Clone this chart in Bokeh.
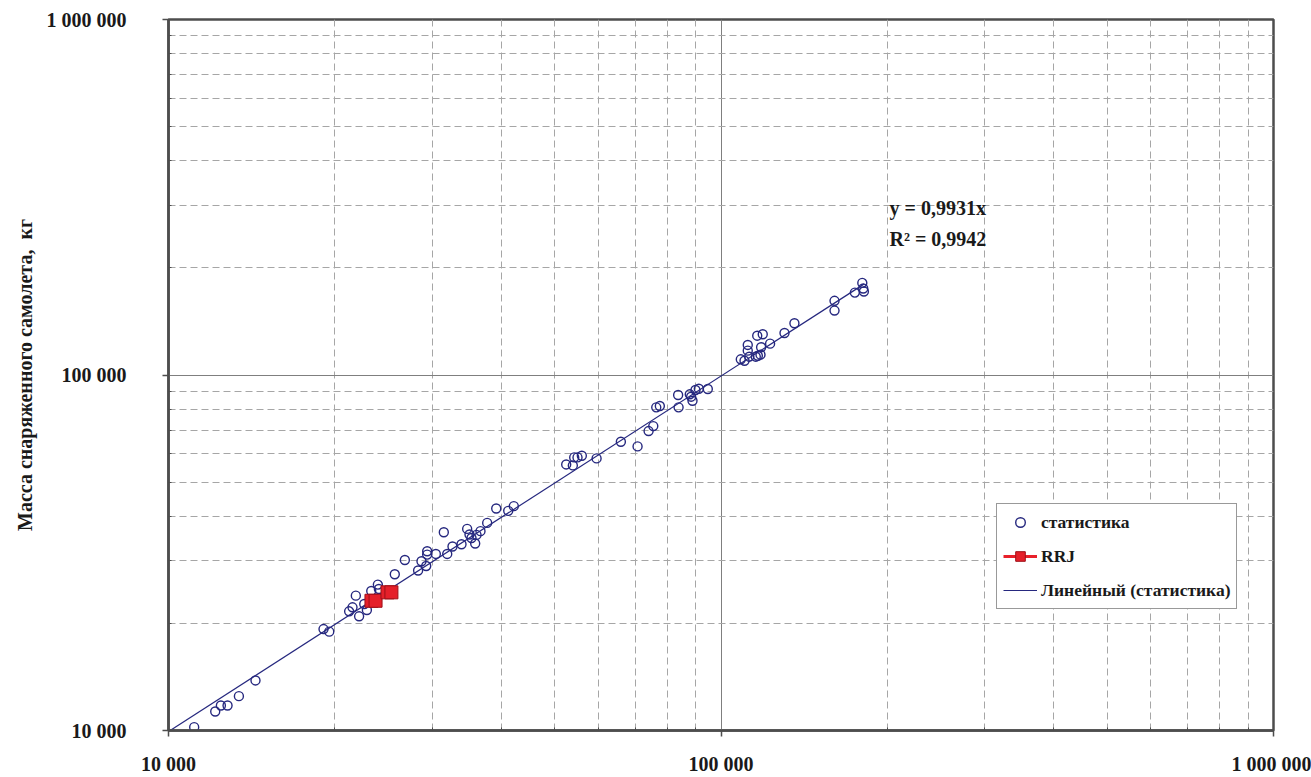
from bokeh.plotting import figure
from bokeh.models import (Range1d, FixedTicker, Label, Legend, LegendItem)
from bokeh.embed import file_html
from bokeh.resources import INLINE

# Statistics: take-off mass vs. equipped aircraft mass, kg
stat_x = [11130, 12150, 12440, 12790, 13410, 14370, 19080, 19540, 21230, 21530,
          21830, 22130, 22610, 22860, 23280, 23930, 24030, 25680, 26780, 28300,
          28700, 29270, 29390, 29390, 30470, 31500, 31950, 32660, 33910, 34720,
          35060, 35350, 35900, 36100, 36700, 37740, 39190, 41200, 42170, 52460,
          53930, 54240, 54990, 55990, 59540, 65880, 70630, 73950, 75410, 76350,
          77500, 83800, 88800, 83640, 87800, 88300, 89910, 91170, 94650, 108600,
          110300, 111800, 111800, 112500, 115600, 116300, 116600, 117900, 118200, 119000,
          122700, 130300, 135800, 160500, 160500, 174700, 180200, 180900, 181400]
stat_y = [10220, 11310, 11760, 11760, 12490, 13830, 19290, 18970, 21640, 22210,
          23950, 20950, 22690, 21830, 24680, 25730, 25000, 27510, 30180, 28180,
          29920, 29030, 31250, 31930, 31380, 36120, 31380, 32920, 33420, 36900,
          35580, 34800, 33570, 35500, 36370, 38370, 42120, 41480, 42760, 56030,
          55670, 58650, 58650, 59260, 58270, 64880, 62980, 69550, 71830, 81100,
          81800, 81100, 84640, 87860, 88240, 86890, 90730, 91500, 91330, 110700,
          109700, 121500, 117100, 112600, 112600, 129000, 113300, 114100, 119700, 130200,
          122500, 131300, 139800, 161700, 151800, 170500, 181600, 175100, 171700]

# RRJ variants
rrj_x = [23300, 23700, 24910, 25320]
rrj_y = [23170, 23170, 24470, 24470]

# Linear trend through the origin
trend_slope = 0.9931
trend_r2 = 0.9942
trend_x = [10000, max(stat_x)]
trend_y = [trend_slope * v for v in trend_x]

major_ticks = [10000, 100000, 1000000]
tick_labels = {10000: "10 000", 100000: "100 000", 1000000: "1 000 000"}
minor_ticks = [m * 10 ** k for k in (4, 5) for m in range(2, 10)]

FONT = "Liberation Serif"
NAVY = "#26287F"
BORDER = "#4D4D4D"
TEXT = "#1A1A1A"

p = figure(width=1311, height=777, x_axis_type="log", y_axis_type="log",
           x_range=Range1d(10000, 1000000), y_range=Range1d(10000, 1000000),
           output_backend="svg", toolbar_location=None,
           min_border_left=168, min_border_right=38,
           min_border_top=19, min_border_bottom=47)
p.background_fill_color = "white"
p.border_fill_color = "white"
p.outline_line_color = BORDER
p.outline_line_width = 2.5

for ax in (p.xaxis[0], p.yaxis[0]):
    ax.ticker = FixedTicker(ticks=major_ticks, minor_ticks=minor_ticks)
    ax.major_label_overrides = tick_labels
    ax.major_label_text_font = FONT
    ax.major_label_text_font_style = "bold"
    ax.major_label_text_font_size = "20px"
    ax.major_label_text_color = TEXT
    ax.axis_line_color = BORDER
    ax.axis_line_width = 2.5
    ax.major_tick_line_color = BORDER
    ax.major_tick_line_width = 1.5
    ax.major_tick_out = 6
    ax.major_tick_in = 0
    ax.minor_tick_line_color = BORDER
    ax.minor_tick_in = 3
    ax.minor_tick_out = 0

p.xaxis.major_label_standoff = 16
p.yaxis.major_label_standoff = 36
p.yaxis.major_label_orientation = "horizontal"

p.yaxis.axis_label = "Масса снаряженного самолета,\u00a0\u00a0кг"
p.yaxis.axis_label_text_font = FONT
p.yaxis.axis_label_text_font_style = "bold"
p.yaxis.axis_label_text_font_size = "20px"
p.yaxis.axis_label_text_color = TEXT
p.yaxis.axis_label_standoff = 8

for g in (p.xgrid[0], p.ygrid[0]):
    g.grid_line_color = "#7F7F7F"
    g.grid_line_width = 1
    g.minor_grid_line_color = "#A6A6A6"
    g.minor_grid_line_dash = "7 4"
    g.minor_grid_line_width = 1

r_trend = p.line(trend_x, trend_y, line_color=NAVY, line_width=1.2)
r_rrj_line = p.line(rrj_x, rrj_y, line_color="#E8202A", line_width=3)
r_stat = p.scatter(stat_x, stat_y, marker="circle", size=9, fill_color=None,
                   line_color=NAVY, line_width=1.4)
r_rrj = p.scatter(rrj_x, rrj_y, marker="square", size=13, fill_color="#E5202A",
                  line_color="#9E1018", line_width=1)

# Legend proxies (smaller circle, line+square for RRJ)
leg_stat = p.scatter([stat_x[0]], [stat_y[0]], marker="circle", size=5, fill_color=None,
                     line_color=NAVY, line_width=1.4, visible=False)
leg_rrj_l = p.line([rrj_x[0]], [rrj_y[0]], line_color="#E8202A", line_width=3, visible=False)
leg_rrj_m = p.scatter([rrj_x[0]], [rrj_y[0]], marker="square", size=13, fill_color="#E5202A",
                      line_color="#9E1018", line_width=1, visible=False)

legend = Legend(items=[
    LegendItem(label="статистика", renderers=[leg_stat]),
    LegendItem(label="RRJ", renderers=[leg_rrj_l, leg_rrj_m]),
    LegendItem(label="Линейный (статистика)", renderers=[r_trend]),
], location=(828, 121))
legend.label_text_font = FONT
legend.label_text_font_style = "bold"
legend.label_text_font_size = "17.5px"
legend.label_text_color = TEXT
legend.border_line_color = "#333333"
legend.border_line_width = 1
legend.background_fill_color = "white"
legend.background_fill_alpha = 1
legend.glyph_width = 34
legend.glyph_height = 24
legend.label_height = 24
legend.label_standoff = 4
legend.spacing = 10
legend.padding = 6
legend.margin = 0
p.add_layout(legend, "center")

eq_style = dict(x_units="screen", y_units="screen", text_font=FONT,
                text_font_style="bold", text_font_size="20px",
                text_color=TEXT, text_baseline="middle")
p.add_layout(Label(x=721, y=523, text="y = " + f"{trend_slope:.4f}".replace(".", ",") + "x",
                   **eq_style))
p.add_layout(Label(x=721, y=492, text="R² = " + f"{trend_r2:.4f}".replace(".", ","),
                   **eq_style))

open("out.html", "w").write(file_html(p, INLINE))
